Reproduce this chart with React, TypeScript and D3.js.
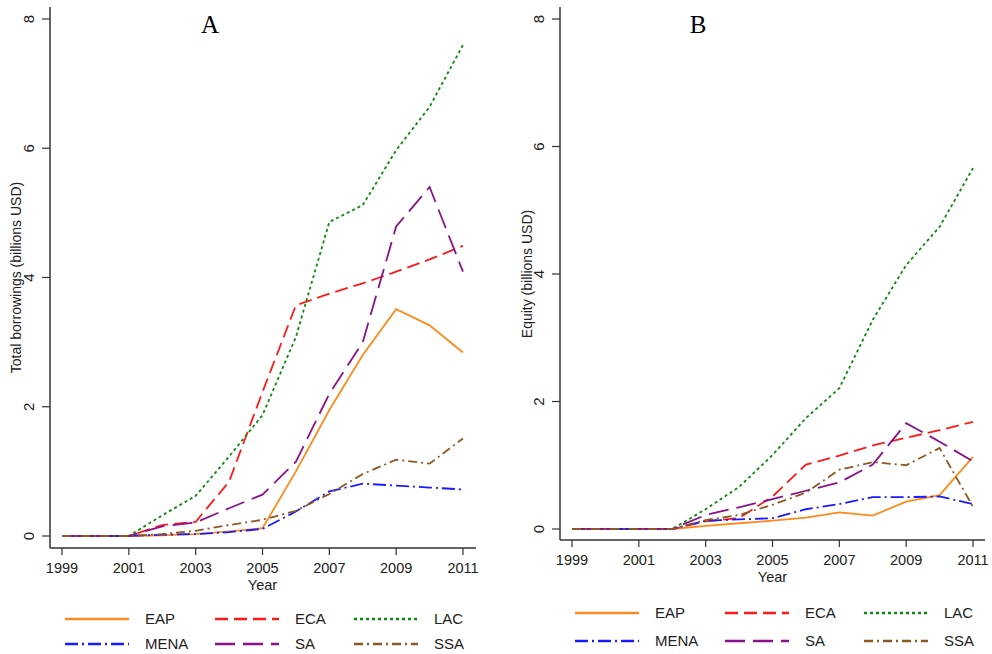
import * as d3 from "d3";

const years = [1999, 2000, 2001, 2002, 2003, 2004, 2005, 2006, 2007, 2008, 2009, 2010, 2011];
const xTicks = [1999, 2001, 2003, 2005, 2007, 2009, 2011];
const yTicks = [0, 2, 4, 6, 8];
const regions = ["EAP", "ECA", "LAC", "MENA", "SA", "SSA"];

// panel A: total borrowings (billions USD)
const borrowEAP = [0, 0, 0, 0.01, 0.03, 0.07, 0.12, 1.0, 1.95, 2.8, 3.51, 3.26, 2.84];
const borrowECA = [0, 0, 0, 0.17, 0.22, 0.84, 2.23, 3.57, 3.75, 3.91, 4.09, 4.28, 4.49];
const borrowLAC = [0, 0, 0, 0.32, 0.62, 1.23, 1.87, 3.08, 4.86, 5.12, 5.97, 6.64, 7.6];
const borrowMENA = [0, 0, 0, 0.02, 0.03, 0.06, 0.11, 0.38, 0.69, 0.81, 0.78, 0.75, 0.72];
const borrowSA = [0, 0, 0, 0.15, 0.21, 0.43, 0.64, 1.15, 2.2, 3.0, 4.79, 5.4, 4.09];
const borrowSSA = [0, 0, 0, 0.03, 0.08, 0.17, 0.25, 0.39, 0.65, 0.96, 1.18, 1.12, 1.51];

// panel B: equity (billions USD)
const equityEAP = [0, 0, 0, 0, 0.05, 0.09, 0.13, 0.18, 0.26, 0.21, 0.43, 0.53, 1.13];
const equityECA = [0, 0, 0, 0, 0.12, 0.17, 0.51, 1.01, 1.15, 1.31, 1.43, 1.55, 1.68];
const equityLAC = [0, 0, 0, 0, 0.31, 0.66, 1.16, 1.74, 2.21, 3.28, 4.14, 4.74, 5.66];
const equityMENA = [0, 0, 0, 0, 0.13, 0.15, 0.17, 0.31, 0.39, 0.5, 0.5, 0.51, 0.39];
const equitySA = [0, 0, 0, 0, 0.22, 0.34, 0.47, 0.6, 0.73, 1.01, 1.66, 1.37, 1.06];
const equitySSA = [0, 0, 0, 0, 0.14, 0.22, 0.38, 0.57, 0.93, 1.05, 1.0, 1.27, 0.35];

const colors: Record<string, string> = {
  EAP: "#ff8a1c",
  ECA: "#ff1a1a",
  LAC: "#0a8a0a",
  MENA: "#1a1aff",
  SA: "#8a128a",
  SSA: "#8b5a24",
};
const dashes: Record<string, string> = {
  EAP: "none",
  ECA: "13,6",
  LAC: "3,3",
  MENA: "13,4,2,4",
  SA: "20,8",
  SSA: "9,4,2,4",
};

const sansFont = "'Liberation Sans', Arial, sans-serif";

type PanelProps = {
  letter: string;
  yLabel: string;
  series: number[][];
  axisX: number;
  x0: number;
  x1: number;
  xEnd: number;
  yTop: number;
  yZero: number;
  axisY: number;
  letterX: number;
  yLabelX: number;
  legendX: number[];
  legendY: number[];
};

function Panel(p: PanelProps) {
  const x = d3.scaleLinear().domain([1999, 2011]).range([p.x0, p.x1]);
  const y = d3.scaleLinear().domain([0, 8]).range([p.yZero, p.yTop]);
  const line = d3
    .line<number>()
    .x((_, i) => x(years[i]))
    .y((d) => y(d));
  const midY = (p.yZero + p.yTop) / 2;

  return (
    <g>
      <text x={p.letterX} y={33} textAnchor="middle" fontFamily="'Liberation Serif', 'Times New Roman', serif" fontSize={25}>
        {p.letter}
      </text>

      {/* axes */}
      <line x1={p.axisX} x2={p.axisX} y1={7} y2={p.axisY} stroke="#333" strokeWidth={1.5} />
      <line x1={p.axisX} x2={p.xEnd} y1={p.axisY} y2={p.axisY} stroke="#333" strokeWidth={1.5} />
      {yTicks.map((t) => (
        <g key={t}>
          <line x1={p.axisX - 8} x2={p.axisX} y1={y(t)} y2={y(t)} stroke="#333" strokeWidth={1.2} />
          <text
            transform={`translate(${p.axisX - 16},${y(t)}) rotate(-90)`}
            textAnchor="middle"
            fontFamily={sansFont}
            fontSize={15}
            fill="#222"
          >
            {t}
          </text>
        </g>
      ))}
      {xTicks.map((t) => (
        <g key={t}>
          <line x1={x(t)} x2={x(t)} y1={p.axisY} y2={p.axisY + 7} stroke="#333" strokeWidth={1.2} />
          <text x={x(t)} y={p.axisY + 25} textAnchor="middle" fontFamily={sansFont} fontSize={14.5} fill="#222">
            {t}
          </text>
        </g>
      ))}
      <text x={(p.x0 + p.x1) / 2} y={p.axisY + 42} textAnchor="middle" fontFamily={sansFont} fontSize={14.5} fill="#222">
        Year
      </text>
      <text
        transform={`translate(${p.yLabelX},${midY}) rotate(-90)`}
        textAnchor="middle"
        fontFamily={sansFont}
        fontSize={14}
        fill="#222"
      >
        {p.yLabel}
      </text>

      {/* series */}
      {p.series.map((s, i) => (
        <path
          key={regions[i]}
          d={line(s) || ""}
          fill="none"
          stroke={colors[regions[i]]}
          strokeWidth={1.8}
          strokeDasharray={dashes[regions[i]]}
        />
      ))}

      {/* legend */}
      {regions.map((r, i) => {
        const lx = p.legendX[i % 3];
        const ly = p.legendY[Math.floor(i / 3)];
        return (
          <g key={r}>
            <line x1={lx} x2={lx + 64} y1={ly} y2={ly} stroke={colors[r]} strokeWidth={2.5} strokeDasharray={dashes[r]} />
            <text x={lx + 80} y={ly + 5} fontFamily={sansFont} fontSize={15} fill="#222">
              {r}
            </text>
          </g>
        );
      })}
    </g>
  );
}

export default function App() {
  return (
    <svg width={992} height={654} style={{ position: "absolute", left: 0, top: 0, background: "#fff" }}>
      <rect width={992} height={654} fill="#fff" />
      <Panel
        letter="A"
        yLabel="Total borrowings (billions USD)"
        series={[borrowEAP, borrowECA, borrowLAC, borrowMENA, borrowSA, borrowSSA]}
        axisX={50}
        x0={62}
        x1={463}
        xEnd={476}
        yTop={19}
        yZero={536}
        axisY={548}
        letterX={210}
        yLabelX={21}
        legendX={[65, 215, 354]}
        legendY={[619, 644]}
      />
      <Panel
        letter="B"
        yLabel="Equity (billions USD)"
        series={[equityEAP, equityECA, equityLAC, equityMENA, equitySA, equitySSA]}
        axisX={560}
        x0={572}
        x1={973}
        xEnd={985}
        yTop={19}
        yZero={529}
        axisY={540}
        letterX={698}
        yLabelX={532}
        legendX={[575, 725, 864]}
        legendY={[613, 641]}
      />
    </svg>
  );
}
